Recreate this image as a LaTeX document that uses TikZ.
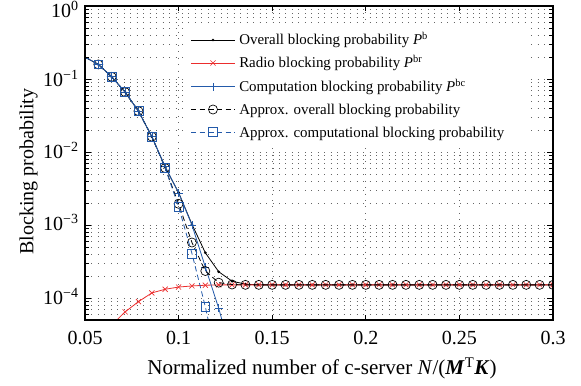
\documentclass[tikz,border=0pt]{standalone}
\usepackage{fontspec}
\setmainfont{Liberation Serif}
\definecolor{bl}{RGB}{35,90,170}
\definecolor{rd}{RGB}{235,45,45}
\begin{document}
\begin{tikzpicture}[x=0.75pt,y=-0.75pt,
  declare function={px(\n)=85+(\n/140-0.05)*1872; py(\l)=6-\l*73; vx(\v)=85+(\v-0.05)*1872;},
  gridl/.style={black!60, line width=0.45pt, dash pattern=on 0.45pt off 4.4pt},
  tickl/.style={black, line width=0.5pt},
  ticklab/.style={font=\fontsize{15}{18}\selectfont, inner sep=0pt},
  leglab/.style={font=\fontsize{11.2}{13}\selectfont, inner sep=0pt, anchor=base west},
  dataline/.style={line width=0.6pt},
  dashline/.style={line width=0.6pt, dash pattern=on 4pt off 2.5pt},
  dotmark/.pic={\fill (0,0) circle (1.1pt);},
  circmark/.pic={\draw[line width=0.5pt, dash pattern=] (0,0) circle (3.4pt);},
  sqmark/.pic={\draw[line width=0.5pt, dash pattern=] (-3.3pt,-3.3pt) rectangle (3.3pt,3.3pt);},
  xmark/.pic={\draw[line width=0.5pt] (-1.9pt,-1.9pt) -- (1.9pt,1.9pt) (-1.9pt,1.9pt) -- (1.9pt,-1.9pt);},
  plusmark/.pic={\draw[line width=0.5pt] (-3pt,0) -- (3pt,0) (0,-3pt) -- (0,3pt);}
]
\useasboundingbox (0,0) rectangle (581,385);

% grid
\foreach \d in {-5,...,-1}{
  \foreach \k in {1,...,9}{
    \pgfmathsetmacro\yy{6-(\d+log10(\k))*73}
    \ifdim\yy pt<320pt \ifdim\yy pt>7pt
      \draw[gridl] (85,\yy) -- (553,\yy);
    \fi\fi
  }
}
\foreach \v in {0.1,0.15,0.2,0.25}{
  \draw[gridl] ({vx(\v)},6) -- ({vx(\v)},320);
}

% legend background
\fill[white] (183,24) rectangle (527,145);

% data
\begin{scope}
\clip (85,6) rectangle (553,320);
% overall (black solid)
\draw[dataline, black] ({px(7)},{py(-0.70)}) \foreach \n/\l in {8/-0.80,9/-0.97,10/-1.18,11/-1.44,12/-1.79,13/-2.21,14/-2.555,15/-2.99,16/-3.38,17/-3.64,18/-3.77,19/-3.81,20/-3.82,42/-3.82}{ -- ({px(\n)},{py(\l)}) };
\foreach \n/\l in {8/-0.80,9/-0.97,10/-1.18,11/-1.44,12/-1.79,13/-2.21,14/-2.555,15/-2.99,16/-3.38,17/-3.64,18/-3.77,19/-3.81}{
  \pic[black] at ({px(\n)},{py(\l)}) {dotmark};
}
\foreach \n in {20,...,42}{ \pic[black] at ({px(\n)},{py(-3.82)}) {dotmark}; }
% radio (red)
\draw[dataline, rd] ({px(8)},{py(-4.62)}) \foreach \n/\l in {9/-4.37,10/-4.19,11/-4.05,12/-3.93,13/-3.88,14/-3.85,15/-3.835,16/-3.825,17/-3.82,42/-3.82}{ -- ({px(\n)},{py(\l)}) };
\foreach \n/\l in {10/-4.19,11/-4.05,12/-3.93,13/-3.88,14/-3.85,15/-3.835,16/-3.825}{
  \pic[rd] at ({px(\n)},{py(\l)}) {xmark};
}
\foreach \n in {17,...,42}{ \pic[rd] at ({px(\n)},{py(-3.82)}) {xmark}; }
% computation (blue solid)
\draw[dataline, bl] ({px(7)},{py(-0.70)}) \foreach \n/\l in {8/-0.80,9/-0.97,10/-1.18,11/-1.44,12/-1.79,13/-2.20,14/-2.56,15/-3.00,16/-3.575,17/-4.14,18/-4.8}{ -- ({px(\n)},{py(\l)}) };
\foreach \n/\l in {8/-0.80,9/-0.97,10/-1.18,11/-1.44,12/-1.79,13/-2.20,14/-2.56,15/-3.00,16/-3.575,17/-4.14}{
  \pic[bl] at ({px(\n)},{py(\l)}) {plusmark};
}
% approx overall (black dashed, circles)
\draw[dashline, black] ({px(7)},{py(-0.70)}) \foreach \n/\l in {8/-0.80,9/-0.97,10/-1.18,11/-1.44,12/-1.79,13/-2.22,14/-2.71,15/-3.24,16/-3.63,17/-3.79,18/-3.815,19/-3.82,42/-3.82}{ -- ({px(\n)},{py(\l)}) };
\foreach \n/\l in {8/-0.80,9/-0.97,10/-1.18,11/-1.44,12/-1.79,13/-2.22,14/-2.71,15/-3.24,16/-3.63,17/-3.79,18/-3.815}{
  \pic[black] at ({px(\n)},{py(\l)}) {circmark};
}
\foreach \n in {19,...,42}{ \pic[black] at ({px(\n)},{py(-3.82)}) {circmark}; }
% approx computational (blue dashed, squares)
\draw[dashline, bl] ({px(7)},{py(-0.70)}) \foreach \n/\l in {8/-0.80,9/-0.97,10/-1.18,11/-1.44,12/-1.79,13/-2.22,14/-2.75,15/-3.39,16/-4.12,17/-4.95}{ -- ({px(\n)},{py(\l)}) };
\foreach \n/\l in {8/-0.80,9/-0.97,10/-1.18,11/-1.44,12/-1.79,13/-2.22,14/-2.75,15/-3.39,16/-4.12}{
  \pic[bl] at ({px(\n)},{py(\l)}) {sqmark};
}
\end{scope}

% ticks
\foreach \v in {0.05,0.1,0.15,0.2,0.25,0.3}{
  \draw[tickl] ({vx(\v)},320) -- ({vx(\v)},315);
  \draw[tickl] ({vx(\v)},6) -- ({vx(\v)},11);
}
\foreach \d in {-5,...,-1}{
  \foreach \k in {1,...,9}{
    \pgfmathsetmacro\yy{6-(\d+log10(\k))*73}
    \ifdim\yy pt<320pt \ifdim\yy pt>7pt
      \ifnum\k=1
        \draw[tickl] (85,\yy) -- (91,\yy);
        \draw[tickl] (553,\yy) -- (547,\yy);
      \else
        \draw[tickl] (85,\yy) -- (89,\yy);
        \draw[tickl] (553,\yy) -- (549,\yy);
      \fi
    \fi\fi
  }
}

% axes box
\draw[line width=0.8pt] (85,6) rectangle (553,320);

% tick labels
\foreach \v/\t in {0.05/0.05,0.1/0.1,0.15/0.15,0.2/0.2,0.25/0.25,0.3/0.3}{
  \node[ticklab, anchor=base] at ({vx(\v)},344) {\t};
}
\node[ticklab, anchor=base east] (y0) at (79,17.5) {10\textsuperscript{0}};
\node[ticklab, anchor=base east] (y1) at (79,86) {10\textsuperscript{−1}};
\node[ticklab, anchor=base east] (y2) at (79,158) {10\textsuperscript{−2}};
\node[ticklab, anchor=base east] (y3) at (79,230) {10\textsuperscript{−3}};
\node[ticklab, anchor=base east] (y4) at (79,304) {10\textsuperscript{−4}};

% axis labels
\node[ticklab, font=\fontsize{15.8}{18}\selectfont, anchor=base] (xlab) at (322,374) {Normalized number of c-server \textit{N}/(\textbf{\textit{M}}\textsuperscript{T}\textbf{\textit{K}})};
\node[ticklab, rotate=90, anchor=base west] (ylab) at (33.5,255) {Blocking probability};

% legend
\draw[dataline, black] (191,40) -- (235,40);
\pic[black] at (213,40) {dotmark};
\node[leglab] (l1) at (239,45) {Overall blocking probability \textit{P}\textsuperscript{b}};
\draw[dataline, rd] (191,63) -- (235,63);
\pic[rd] at (213,63) {xmark};
\node[leglab] (l2) at (239,68) {Radio blocking probability \textit{P}\textsuperscript{br}};
\draw[dataline, bl] (191,86.5) -- (235,86.5);
\pic[bl] at (213,86.5) {plusmark};
\node[leglab] (l3) at (239,91.5) {Computation blocking probability \textit{P}\textsuperscript{bc}};
\draw[dashline, black] (191,109.5) -- (235,109.5);
\pic[black] at (213,109.5) {circmark};
\node[leglab] (l4) at (239,114.5) {Approx. overall blocking probability};
\draw[dashline, bl] (191,132) -- (235,132);
\pic[bl] at (213,132) {sqmark};
\node[leglab] (l5) at (239,137) {Approx. computational blocking probability};
\end{tikzpicture}
\end{document}
